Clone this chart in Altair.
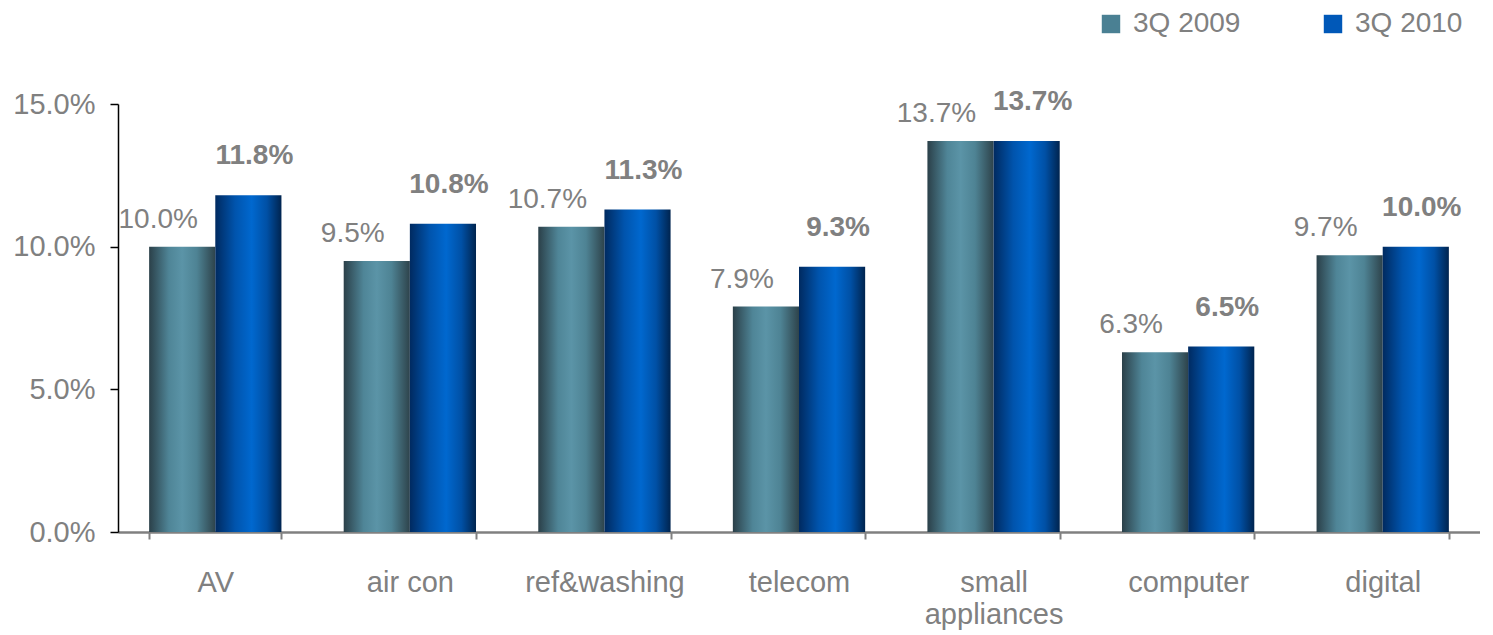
import altair as alt
import pandas as pd

categories = ["AV", "air con", "ref&washing", "telecom", "small appliances", "computer", "digital"]
series = ["3Q 2009", "3Q 2010"]
q3_2009 = [10.0, 9.5, 10.7, 7.9, 13.7, 6.3, 9.7]
q3_2010 = [11.8, 10.8, 11.3, 9.3, 13.7, 6.5, 10.0]
y_ticks = [0, 5, 10, 15]

rows = []
for c, a, b in zip(categories, q3_2009, q3_2010):
    rows.append({"category": c, "series": series[0], "value": a, "label": f"{a:.1f}%"})
    rows.append({"category": c, "series": series[1], "value": b, "label": f"{b:.1f}%"})
df = pd.DataFrame(rows)

FONT = "Liberation Sans"
GRAY = "#808080"

grad09 = alt.Gradient(
    gradient="linear", x1=0, x2=1, y1=0, y2=0,
    stops=[
        alt.GradientStop(offset=0, color="#2b4049"),
        alt.GradientStop(offset=0.3, color="#4f8597"),
        alt.GradientStop(offset=0.5, color="#5b94a7"),
        alt.GradientStop(offset=0.72, color="#4e8394"),
        alt.GradientStop(offset=1, color="#2e434b"),
    ],
)
grad10 = alt.Gradient(
    gradient="linear", x1=0, x2=1, y1=0, y2=0,
    stops=[
        alt.GradientStop(offset=0, color="#002a60"),
        alt.GradientStop(offset=0.3, color="#0054ad"),
        alt.GradientStop(offset=0.55, color="#0068cf"),
        alt.GradientStop(offset=0.78, color="#0050a5"),
        alt.GradientStop(offset=1, color="#00244f"),
    ],
)

base = alt.Chart(df).encode(
    x=alt.X(
        "category:N",
        sort=categories,
        scale=alt.Scale(paddingInner=0.32, paddingOuter=0.16),
        axis=alt.Axis(
            title=None,
            labelAngle=0,
            tickBand="extent",
            domainColor=GRAY,
            domainWidth=2.5,
            tickColor=GRAY,
            tickWidth=2,
            tickSize=7,
            labelPadding=29,
            labelFont=FONT,
            labelFontSize=29,
            labelColor=GRAY,
            labelLineHeight=32,
            labelExpr="datum.label == 'small appliances' ? ['small', 'appliances'] : datum.label",
        ),
    ),
    xOffset=alt.XOffset("series:N", scale=alt.Scale(domain=series, paddingInner=0, paddingOuter=0)),
    y=alt.Y(
        "value:Q",
        scale=alt.Scale(domain=[0, 15], nice=False),
        axis=alt.Axis(
            title=None,
            values=y_ticks,
            grid=False,
            domainColor="black",
            domainWidth=1.5,
            tickColor="black",
            tickWidth=1.5,
            tickSize=8,
            labelPadding=15,
            labelFont=FONT,
            labelFontSize=29,
            labelColor=GRAY,
            labelExpr="format(datum.value, '.1f') + '%'",
        ),
    ),
)

bars09 = base.transform_filter(alt.datum.series == series[0]).mark_bar(color=grad09)
bars10 = base.transform_filter(alt.datum.series == series[1]).mark_bar(color=grad10)

text09 = base.transform_filter(alt.datum.series == series[0]).mark_text(
    font=FONT, fontSize=28, color=GRAY, baseline="alphabetic", dx=-24, dy=-19
).encode(text="label:N")
text10 = base.transform_filter(alt.datum.series == series[1]).mark_text(
    font=FONT, fontSize=28, fontWeight="bold", color=GRAY, baseline="alphabetic", dx=6, dy=-31
).encode(text="label:N")

legend_layer = base.mark_bar(opacity=0).encode(
    color=alt.Color(
        "series:N",
        scale=alt.Scale(domain=series, range=["#4a8093", "#0058b8"]),
        legend=alt.Legend(
            title=None,
            orient="none",
            direction="horizontal",
            legendX=979,
            legendY=-94,
            padding=0,
            symbolType="square",
            symbolSize=340,
            symbolOpacity=1,
            symbolStrokeWidth=0,
            labelFont=FONT,
            labelFontSize=28,
            labelColor=GRAY,
            labelOffset=8,
            columnPadding=78,
        ),
    )
)

chart = alt.layer(bars09, bars10, text09, text10, legend_layer).properties(
    width=1362,
    height=428,
    autosize=alt.AutoSizeParams(type="none"),
    padding={"left": 110, "top": 96, "right": 0, "bottom": 100},
).configure_view(stroke=None)

chart.save("out.html", embed_options={"renderer": "svg", "actions": False})
